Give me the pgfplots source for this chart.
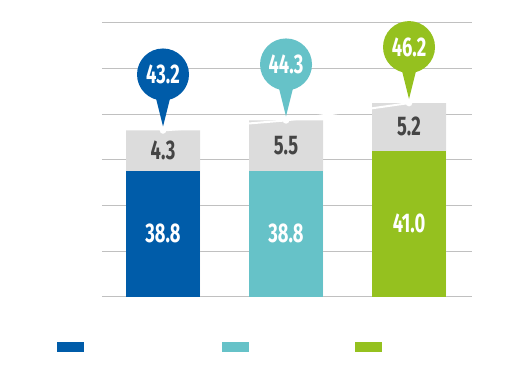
\documentclass[border=0pt]{standalone}
\usepackage{pgfplots}
\pgfplotsset{compat=1.18}
\usepackage{pgfplotstable}
\usepackage{fontspec}
\setmainfont{Fira Sans}
\newfontfamily\numfont[FakeStretch=0.68]{Fira Sans}
\definecolor{cblue}{HTML}{005CA9}
\definecolor{cteal}{HTML}{66C2C8}
\definecolor{cgreen}{HTML}{95C11F}
\definecolor{cgray}{HTML}{DCDCDC}
\definecolor{clabel}{HTML}{454545}
\definecolor{gridc}{HTML}{C0C0C0}
\pgfplotstableread{
x bottom top total
0 38.8 4.3 43.2
1 38.8 5.5 44.3
2 41.0 5.2 46.2
}\data
\newcommand{\numsize}{\numfont\bfseries\fontsize{27}{27}\selectfont}
\pgfdeclareplotmark{pintail}{%
  \pgfpathmoveto{\pgfpoint{0pt}{4pt}}%
  \pgfpathlineto{\pgfpoint{-9.5pt}{42pt}}%
  \pgfpathlineto{\pgfpoint{9.5pt}{42pt}}%
  \pgfpathclose
  \pgfusepathqfill}
\tikzset{
  pinstyle/.style={circle, minimum size=52pt, inner sep=0pt, anchor=center,
    yshift=56pt, text=white, font=\numsize, fill=#1},
  lowlabel/.style={anchor=center, yshift={-4.567pt*(\pgfplotspointmeta-25)},
    text=white, font=\numsize}
}
\begin{document}
\begin{tikzpicture}
\useasboundingbox (-102pt,-73.3pt) rectangle (428pt,296.7pt);
\begin{axis}[
  at={(0pt,0pt)}, anchor=south west,
  scale only axis, width=370pt, height=274pt,
  xmin=-0.496, xmax=2.512, ymin=25, ymax=55,
  ytick={25,30,...,55}, yticklabels={}, xtick=\empty,
  ymajorgrids, grid style={color=gridc, line width=1pt},
  axis line style={draw=none}, major tick length=0pt,
  ybar, bar width=74pt,
  legend columns=3,
  legend style={at={(-0.1208,-0.1836)}, anchor=west, draw=none, fill=none,
    inner sep=0pt, outer sep=0pt,
    /tikz/every even column/.append style={column sep=0pt},
    nodes={inner sep=0pt}},
  legend image code/.code={\fill[#1] (0pt,-5.35pt) rectangle (27pt,5.35pt);},
]
% gray upper segment (total), label = increment
\addplot[forget plot, fill=cgray, draw=none, bar shift=0pt,
  nodes near coords, point meta=explicit symbolic,
  every node near coord/.append style={anchor=center,
    yshift={-4.567pt*\pgfplotspointmeta},
    text=clabel, font=\numsize}]
  table[x=x, y=total, meta=top] {\data};
% coloured lower segments
\addplot[fill=cblue, draw=none, bar shift=0pt,
  restrict expr to domain={\coordindex}{0:0},
  nodes near coords, point meta=explicit symbolic,
  every node near coord/.append style={lowlabel}]
  table[x=x, y=bottom, meta=bottom] {\data};
\addlegendentry{\hspace*{137.7pt}}
\addplot[fill=cteal, draw=none, bar shift=0pt,
  restrict expr to domain={\coordindex}{1:1},
  nodes near coords, point meta=explicit symbolic,
  every node near coord/.append style={lowlabel}]
  table[x=x, y=bottom, meta=bottom] {\data};
\addlegendentry{\hspace*{105.7pt}}
\addplot[fill=cgreen, draw=none, bar shift=0pt,
  restrict expr to domain={\coordindex}{2:2},
  nodes near coords, point meta=explicit symbolic,
  every node near coord/.append style={lowlabel}]
  table[x=x, y=bottom, meta=bottom] {\data};
\addlegendentry{\hspace*{20pt}}
% white trend line across the bar tops
\addplot[forget plot, sharp plot, draw=white, line width=2pt, mark=*, mark size=2.2pt,
  mark options={fill=white, draw=white}]
  table[x=x, y=total] {\data};
% pins with totals
\addplot[forget plot, only marks, bar shift=0pt, mark=pintail, color=cblue, fill=cblue,
  restrict expr to domain={\coordindex}{0:0},
  nodes near coords, point meta=explicit symbolic,
  every node near coord/.append style={pinstyle=cblue}]
  table[x=x, y=total, meta=total] {\data};
\addplot[forget plot, only marks, bar shift=0pt, mark=pintail, color=cteal, fill=cteal,
  restrict expr to domain={\coordindex}{1:1},
  nodes near coords, point meta=explicit symbolic,
  every node near coord/.append style={pinstyle=cteal}]
  table[x=x, y=total, meta=total] {\data};
\addplot[forget plot, only marks, bar shift=0pt, mark=pintail, color=cgreen, fill=cgreen,
  restrict expr to domain={\coordindex}{2:2},
  nodes near coords, point meta=explicit symbolic,
  every node near coord/.append style={pinstyle=cgreen}]
  table[x=x, y=total, meta=total] {\data};
\end{axis}
\end{tikzpicture}
\end{document}
